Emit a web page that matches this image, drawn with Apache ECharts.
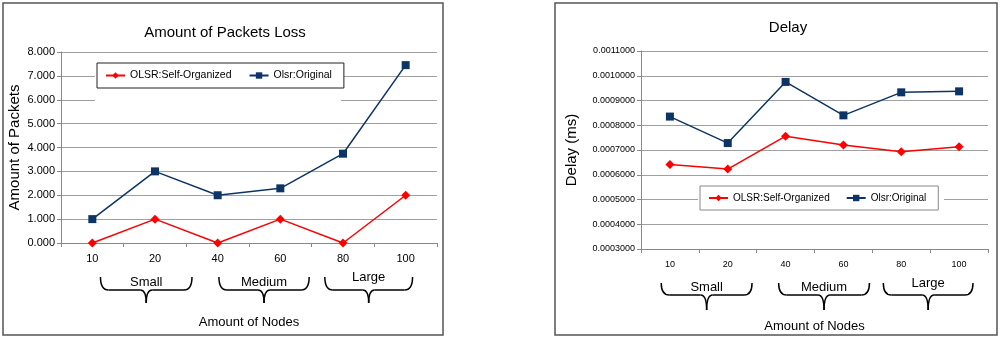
<!DOCTYPE html>
<html><head><meta charset="utf-8">
<script src="https://cdn.jsdelivr.net/npm/echarts@6/dist/echarts.min.js"></script>
<style>html,body{margin:0;padding:0;background:#fff}#c{width:1000px;height:338px}</style>
</head><body><div id="c"></div>
<script>
const categories = ['10','20','40','60','80','100'];
const lossSelfOrganized = [0, 1, 0, 1, 0, 2];
const lossOriginal = [1, 3, 2, 2.29, 3.74, 7.45];
const delaySelfOrganized = [0.000641, 0.000623, 0.000756, 0.00072, 0.000693, 0.000713];
const delayOriginal = [0.000835, 0.000728, 0.000975, 0.00084, 0.000933, 0.000937];
const seriesNames = ['OLSR:Self-Organized', 'Olsr:Original'];
const groupLabels = ['Small', 'Medium', 'Large'];
const groupRanges = [[0,1],[2,3],[4,5]];

const FONT = 'Liberation Sans, Arial, sans-serif';
const RED = '#ff0000', NAVY = '#0c3566';

const chart = echarts.init(document.getElementById('c'), null, {renderer:'canvas'});

function lineSeries(name, data, color, symbol, size, idx) {
  return {type:'line', name, data, xAxisIndex:idx, yAxisIndex:idx, color,
    symbol, symbolSize:size, showAllSymbol:true,
    lineStyle:{color, width:1.5}, itemStyle:{color}, animation:false};
}

const option = {
  animation:false,
  textStyle:{fontFamily:FONT},
  title:[
    {text:'Amount of Packets Loss', left:220, top:20, textAlign:'center',
     textStyle:{fontFamily:FONT, fontSize:15, fontWeight:'normal', color:'#000'}},
    {text:'Delay', left:783, top:15, textAlign:'center',
     textStyle:{fontFamily:FONT, fontSize:15, fontWeight:'normal', color:'#000'}}
  ],
  legend:[
    {data:seriesNames, left:97, top:63, orient:'horizontal', itemGap:17, itemWidth:19, itemHeight:8,
     padding:[7,12,7,8], backgroundColor:'#fff', borderColor:'#222', borderWidth:1,
     textStyle:{fontFamily:FONT, fontSize:10.5, color:'#000'},
     selectedMode:false},
    {data:seriesNames, left:700, top:186, orient:'horizontal', itemGap:16, itemWidth:19, itemHeight:8,
     padding:[7,12,7,8], backgroundColor:'#fff', borderColor:'#888', borderWidth:1,
     textStyle:{fontFamily:FONT, fontSize:10, color:'#000'},
     selectedMode:false}
  ],
  grid:[
    {left:61, right:563, top:52, bottom:95, containLabel:false},
    {left:641, right:12, top:51, bottom:87, containLabel:false}
  ],
  xAxis:[
    {type:'category', gridIndex:0, data:categories, boundaryGap:true,
     axisLine:{lineStyle:{color:'#888'}}, axisTick:{show:true, length:4, lineStyle:{color:'#888'}},
     axisLabel:{fontFamily:FONT, fontSize:11, color:'#000', margin:10},
     name:'Amount of Nodes', nameLocation:'middle', nameGap:73,
     nameTextStyle:{fontFamily:FONT, fontSize:13, color:'#000'}},
    {type:'category', gridIndex:1, data:categories, boundaryGap:true,
     axisLine:{lineStyle:{color:'#888'}}, axisTick:{show:true, length:4, lineStyle:{color:'#888'}},
     axisLabel:{fontFamily:FONT, fontSize:9, color:'#000', margin:11},
     name:'Amount of Nodes', nameLocation:'middle', nameGap:71,
     nameTextStyle:{fontFamily:FONT, fontSize:13, color:'#000'}}
  ],
  yAxis:[
    {type:'value', gridIndex:0, min:0, max:8, interval:1,
     axisLine:{show:true, lineStyle:{color:'#888'}}, axisTick:{show:true, length:4, lineStyle:{color:'#888'}},
     splitLine:{lineStyle:{color:'#a0a0a0'}},
     axisLabel:{fontFamily:FONT, fontSize:11, color:'#000', margin:6, formatter:v=>v.toFixed(3)},
     name:'Amount of Packets', nameLocation:'middle', nameGap:39,
     nameTextStyle:{fontFamily:FONT, fontSize:15, color:'#000'}},
    {type:'value', gridIndex:1, min:0.0003, max:0.0011, interval:0.0001,
     axisLine:{show:true, lineStyle:{color:'#888'}}, axisTick:{show:true, length:4, lineStyle:{color:'#888'}},
     splitLine:{lineStyle:{color:'#a0a0a0'}},
     axisLabel:{fontFamily:FONT, fontSize:9, color:'#000', margin:6, formatter:v=>v.toFixed(7)},
     name:'Delay (ms)', nameLocation:'middle', nameGap:62,
     nameTextStyle:{fontFamily:FONT, fontSize:15, color:'#000'}}
  ],
  series:[
    lineSeries(seriesNames[0], lossSelfOrganized, RED, 'diamond', 9, 0),
    lineSeries(seriesNames[1], lossOriginal, NAVY, 'rect', 8, 0),
    lineSeries(seriesNames[0], delaySelfOrganized, RED, 'diamond', 9, 1),
    lineSeries(seriesNames[1], delayOriginal, NAVY, 'rect', 8, 1)
  ]
};
chart.setOption(option);

// Braces and group labels positioned from the category scale
function px(gridIdx, catIdx) {
  return chart.convertToPixel({xAxisIndex:gridIdx}, categories[catIdx]);
}
const braceOffsets = [
  [[0.13,0.59],[0.02,0.46],[-0.29,0.11]],
  [[-0.15,0.42],[-0.12,0.45],[-0.31,0.24]]
];
const braceY = [[277,290,303],[283,295,310]];
const labelY = [[282,282,277],[287,287,283]];
const graphics = [];
const bs = {fill:null, stroke:'#000', lineWidth:1.5};
graphics.push({type:'rect', shape:{x:3,y:3,width:440,height:332}, style:{fill:null, stroke:'#555', lineWidth:1.5}, z:0});
graphics.push({type:'rect', shape:{x:555,y:3,width:442,height:332}, style:{fill:null, stroke:'#555', lineWidth:1.5}, z:0});
graphics.push({type:'rect', shape:{x:95,y:62,width:246,height:39}, style:{fill:'#fff'}, z:1});
graphics.push({type:'rect', shape:{x:698,y:185,width:246,height:28}, style:{fill:'#fff'}, z:1});
for (let g=0; g<2; g++) {
  const band = px(g,1) - px(g,0);
  groupRanges.forEach((r, i) => {
    const x1 = px(g, r[0]) + braceOffsets[g][i][0]*band;
    const x2 = px(g, r[1]) + braceOffsets[g][i][1]*band;
    const m = (x1+x2)/2;
    const [y0,y1,y2] = braceY[g];
    graphics.push({type:'bezierCurve', shape:{x1:x1,y1:y0,cpx1:x1,cpy1:y1,x2:x1+8,y2:y1}, style:bs, z:5});
    graphics.push({type:'line', shape:{x1:x1+8,y1:y1,x2:m-6,y2:y1}, style:bs, z:5});
    graphics.push({type:'bezierCurve', shape:{x1:m-6,y1:y1,cpx1:m,cpy1:y1,x2:m,y2:y2}, style:bs, z:5});
    graphics.push({type:'bezierCurve', shape:{x1:m,y1:y2,cpx1:m,cpy1:y1,x2:m+6,y2:y1}, style:bs, z:5});
    graphics.push({type:'line', shape:{x1:m+6,y1:y1,x2:x2-8,y2:y1}, style:bs, z:5});
    graphics.push({type:'bezierCurve', shape:{x1:x2-8,y1:y1,cpx1:x2,cpy1:y1,x2:x2,y2:y0}, style:bs, z:5});
    graphics.push({type:'text', x:m, y:labelY[g][i], style:{text:groupLabels[i], fill:'#000',
      font:`13px ${FONT}`, textAlign:'center', textVerticalAlign:'middle'}, z:5});
  });
}
chart.setOption({graphic:graphics});
</script></body></html>
